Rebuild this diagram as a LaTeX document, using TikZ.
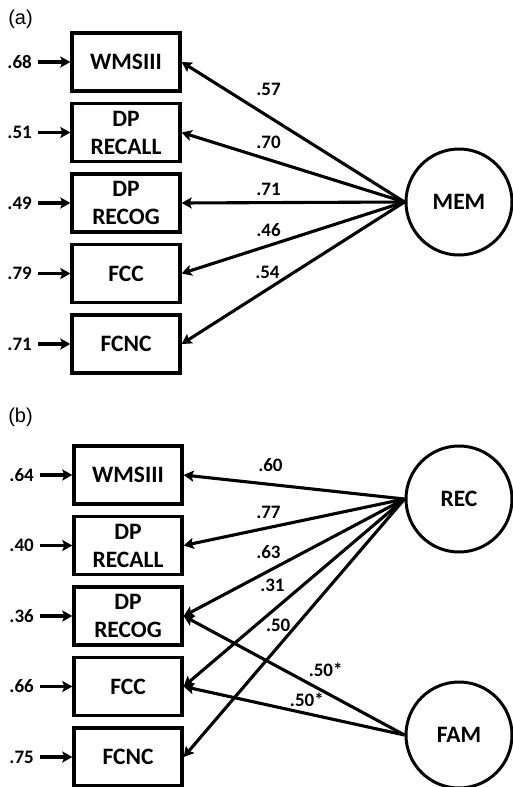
\documentclass[tikz,border=0pt]{standalone}
\usepackage{fontspec}
\setmainfont{Carlito}
\newfontfamily\panelfont{Liberation Sans}
\usetikzlibrary{arrows.meta,positioning}
\tikzset{
  obs/.style={draw, rectangle, line width=3.3pt, minimum width=108pt, minimum height=58pt, align=center, font=\fontsize{23.5}{28}\selectfont\bfseries},
  lat/.style={draw, circle, line width=3pt, minimum size=106pt, font=\fontsize{23.5}{28}\selectfont\bfseries},
  err/.style={inner xsep=5pt, inner ysep=0pt, font=\fontsize{19}{20}\selectfont\bfseries},
  coef/.style={inner sep=0pt, font=\fontsize{19}{20}\selectfont\bfseries},
  panel/.style={font=\panelfont\fontsize{20}{24}\selectfont}
}
\begin{document}
\begin{tikzpicture}[x=1pt, y=-1pt, >={Stealth[length=10pt, width=11pt, inset=2pt]}, line width=3.1pt, node distance=70.5pt]
\useasboundingbox (0,0) rectangle (512,787);
\node[panel] (pa) at (20.5,19.5) {(a)};
\node[obs] (wmsA) at (126,62) {WMSIII};
\node[obs, below of=wmsA] (recallA) {DP\\RECALL};
\node[obs, below of=recallA] (recogA) {DP\\RECOG};
\node[obs, below of=recogA] (fccA) {FCC};
\node[obs, below of=fccA] (fcncA) {FCNC};
\node[lat] (memA) at (459,202) {MEM};
\node[err, left=32pt of wmsA] (ewmsA) {.68};
\node[err, left=32pt of recallA] (erecallA) {.51};
\node[err, left=32pt of recogA] (erecogA) {.49};
\node[err, left=32pt of fccA] (efccA) {.79};
\node[err, left=32pt of fcncA] (efcncA) {.71};
\draw[->] (ewmsA) -- (wmsA);
\draw[->] (erecallA) -- (recallA);
\draw[->] (erecogA) -- (recogA);
\draw[->] (efccA) -- (fccA);
\draw[->] (efcncA) -- (fcncA);
\draw[->] (memA.west) -- node[coef, pos=0.61, above=19pt] {.57} (wmsA.east);
\draw[->] (memA.west) -- node[coef, pos=0.61, above=9pt] {.70} (recallA.east);
\draw[->] (memA.west) -- node[coef, pos=0.61, above=5.5pt] {.71} (recogA.east);
\draw[->] (memA.west) -- node[coef, pos=0.61, above=7pt] {.46} (fccA.east);
\draw[->] (memA.west) -- node[coef, pos=0.615, above=9pt] {.54} (fcncA.east);
\node[panel] (pb) at (20.5,417) {(b)};
\node[obs] (wmsB) at (128,475) {WMSIII};
\node[obs, below of=wmsB] (recallB) {DP\\RECALL};
\node[obs, below of=recallB] (recogB) {DP\\RECOG};
\node[obs, below of=recogB] (fccB) {FCC};
\node[obs, below of=fccB] (fcncB) {FCNC};
\node[lat] (recB) at (459,499) {REC};
\node[lat] (famB) at (459,735) {FAM};
\node[err, left=32pt of wmsB] (ewmsB) {.64};
\node[err, left=32pt of recallB] (erecallB) {.40};
\node[err, left=32pt of recogB] (erecogB) {.36};
\node[err, left=32pt of fccB] (efccB) {.66};
\node[err, left=32pt of fcncB] (efcncB) {.75};
\draw[->] (ewmsB) -- (wmsB);
\draw[->] (erecallB) -- (recallB);
\draw[->] (erecogB) -- (recogB);
\draw[->] (efccB) -- (fccB);
\draw[->] (efcncB) -- (fcncB);
\draw[->] (recB.west) -- node[coef, pos=0.607, above=11pt] {.60} (wmsB.east);
\draw[->] (recB.west) -- node[coef, pos=0.616, above=7pt] {.77} (recallB.east);
\draw[->] (recB.west) -- node[coef, pos=0.616, above=11pt] {.63} (recogB.east);
\draw[->] (recB.west) -- node[coef, pos=0.598, above=18pt] {.31} (fccB.east);
\draw[->] (recB.west) -- node[coef, pos=0.572, above=13pt] {.50} (fcncB.east);
\draw[->] (famB.west) -- node[coef, pos=0.357, above=14pt] {.50*} (recogB.east);
\draw[->] (famB.west) -- node[coef, pos=0.442, above=5pt] {.50*} (fccB.east);
\end{tikzpicture}
\end{document}
